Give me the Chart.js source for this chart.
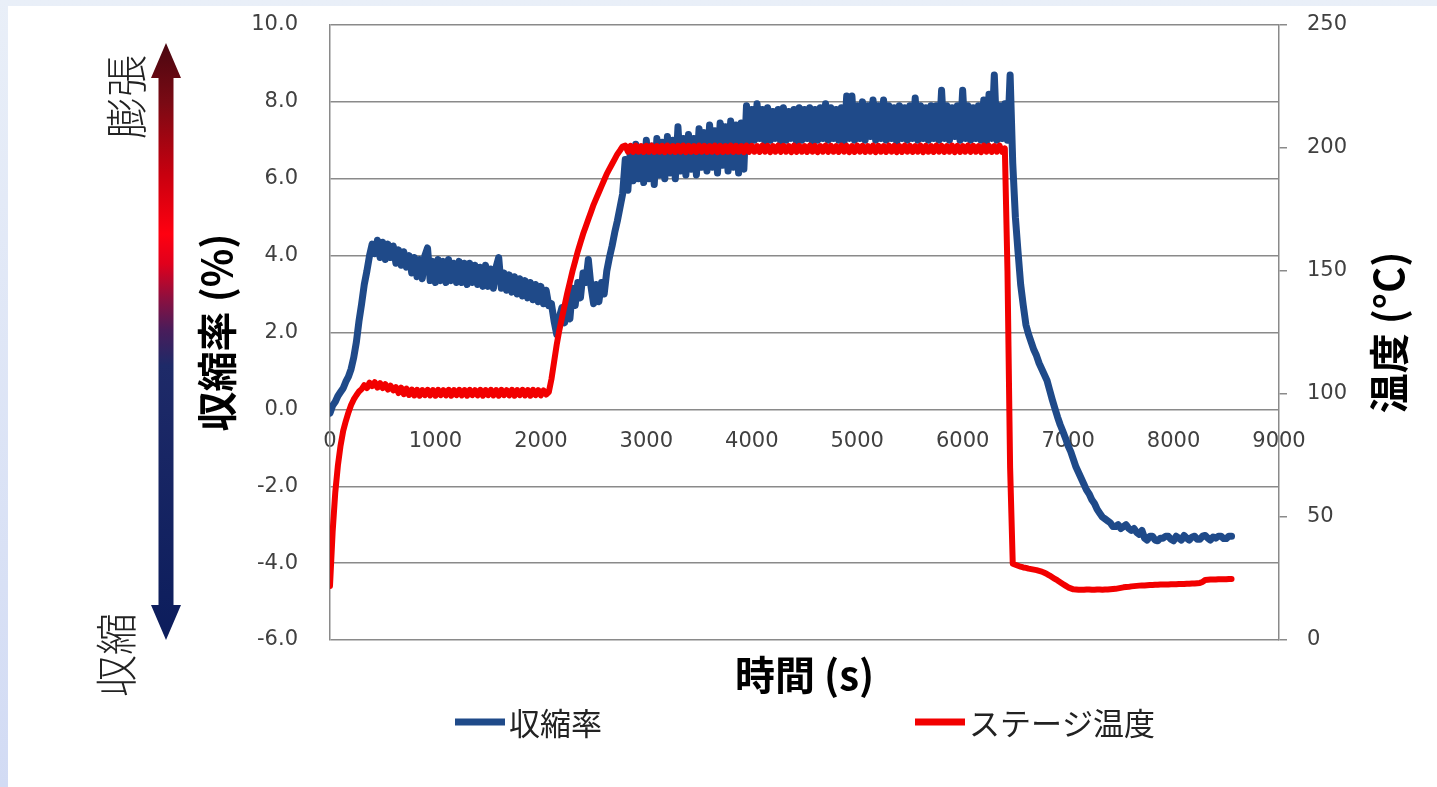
<!DOCTYPE html>
<html lang="ja">
<head>
<meta charset="utf-8">
<title>収縮率とステージ温度</title>
<script src="https://cdn.jsdelivr.net/npm/chart.js@4.4.1/dist/chart.umd.min.js"></script>
<style>
  html, body { margin: 0; padding: 0; }
  body {
    width: 1437px; height: 787px; overflow: hidden; position: relative;
    background: linear-gradient(to bottom, #e9eff8, #d2dbf4);
  }
  #panel { position: absolute; left: 8px; top: 6px; width: 1429px; height: 781px; background: #fff; }
  canvas { display: block; }
</style>
</head>
<body>
<div id="panel"><canvas id="chart" width="1429" height="781"></canvas></div>
<script>
// Readings logged every 25 s from t = 0 to 8550 s
const SAMPLE_INTERVAL_S = 25;

// Shrinkage / expansion rate (%), left axis — one row per 250 s
const shrinkage = [
  -0.1, 0.1, 0.2, 0.35, 0.45, 0.55, 0.72, 0.85, 1.05, 1.35,
  1.75, 2.3, 2.75, 3.25, 3.6, 4.0, 4.3, 4.05, 4.4, 3.95,
  4.35, 3.9, 4.3, 3.95, 4.25, 3.8, 4.15, 3.75, 4.1, 3.7,
  4.0, 3.55, 3.95, 3.45, 3.9, 3.4, 4.0, 4.2, 3.35, 3.85,
  3.3, 3.9, 3.35, 3.85, 3.3, 3.9, 3.35, 3.8, 3.3, 3.85,
  3.3, 3.8, 3.25, 3.8, 3.3, 3.75, 3.25, 3.7, 3.2, 3.75,
  3.2, 3.65, 3.15, 3.7, 3.95, 3.15, 3.55, 3.1, 3.5, 3.05,
  3.45, 3.0, 3.4, 2.95, 3.35, 2.9, 3.3, 2.85, 3.25, 2.8,
  3.2, 2.75, 3.1, 2.7, 2.75, 2.3, 1.95, 2.4, 2.65, 2.25,
  2.8, 2.35, 3.15, 2.7, 3.3, 2.9, 3.55, 3.3, 3.9, 3.2,
  2.75, 3.25, 2.8, 3.3, 3.0, 3.6, 3.95, 4.25, 4.6, 4.9,
  5.25, 5.6, 6.5, 5.7, 6.8, 5.95, 6.9, 6.0, 6.75, 5.9,
  7.0, 6.0, 6.85, 5.85, 7.05, 6.1, 6.95, 6.0, 7.1, 6.15,
  7.0, 6.0, 7.35, 6.2, 7.05, 6.1, 7.15, 6.25, 7.05, 6.1,
  7.3, 6.3, 7.2, 6.2, 7.4, 6.3, 7.25, 6.15, 7.45, 6.35,
  7.35, 6.2, 7.5, 6.3, 7.4, 6.15, 7.45, 6.25, 7.9, 6.95,
  7.8, 7.0, 7.95, 7.05, 7.8, 6.95, 7.85, 7.0, 7.75, 7.05,
  7.8, 6.95, 7.85, 7.0, 7.75, 7.05, 7.8, 6.95, 7.85, 7.0,
  7.8, 7.05, 7.85, 6.95, 7.8, 7.0, 7.85, 7.05, 7.95, 7.0,
  7.85, 7.05, 7.8, 7.0, 7.85, 6.95, 8.15, 7.05, 8.15, 7.0,
  7.9, 7.05, 8.0, 7.0, 7.9, 7.1, 8.05, 7.0, 7.9, 7.05,
  8.05, 7.0, 7.9, 7.05, 7.85, 6.95, 7.9, 7.05, 7.85, 7.0,
  7.9, 7.05, 8.1, 7.0, 7.9, 7.05, 7.85, 7.0, 7.9, 7.05,
  7.9, 7.0, 8.3, 7.05, 7.9, 7.0, 7.85, 7.1, 7.9, 7.0,
  8.3, 7.05, 7.9, 7.0, 7.85, 7.05, 7.9, 7.0, 8.05, 6.95,
  8.2, 7.05, 8.7, 7.0, 7.9, 7.05, 7.95, 7.0, 8.7, 6.4,
  5.0, 4.1, 3.25, 2.7, 2.2, 1.95, 1.75, 1.55, 1.4, 1.2,
  1.05, 0.9, 0.75, 0.5, 0.25, 0.02, -0.2, -0.4, -0.57, -0.75,
  -0.95, -1.1, -1.3, -1.5, -1.65, -1.8, -1.95, -2.1, -2.2, -2.35,
  -2.45, -2.6, -2.7, -2.8, -2.85, -2.9, -2.95, -3.05, -3.05, -3.0,
  -3.1, -3.05, -3.0, -3.1, -3.15, -3.1, -3.2, -3.25, -3.15, -3.35,
  -3.4, -3.3, -3.3, -3.4, -3.42, -3.35, -3.35, -3.3, -3.3, -3.38,
  -3.42, -3.3, -3.35, -3.4, -3.28, -3.35, -3.4, -3.32, -3.3, -3.38,
  -3.38, -3.3, -3.28, -3.35, -3.4, -3.32, -3.35, -3.3, -3.3, -3.36,
  -3.36, -3.3, -3.3
];

// Stage temperature (°C), right axis — one row per 250 s
const stageTemperature = [
  22, 44, 60, 71, 79, 85, 89, 92.5, 95.5, 97.8,
  99.5, 101, 102, 103.6, 102.4, 104.6, 103.2, 104.8, 102.6, 104.4,
  102.4, 104.0, 101.8, 103.4, 101.5, 102.8, 100.4, 102.6, 99.9, 102.2,
  99.6, 101.8, 99.4, 101.7, 99.3, 101.6, 99.5, 101.7, 99.4, 101.6,
  99.3, 101.7, 99.5, 101.6, 99.4, 101.7, 99.3, 101.6, 99.5, 101.7,
  99.4, 101.6, 99.3, 101.7, 99.5, 101.6, 99.4, 101.7, 99.3, 101.6,
  99.5, 101.7, 99.4, 101.6, 99.3, 101.7, 99.5, 101.6, 99.4, 101.7,
  99.3, 101.6, 99.5, 101.7, 99.4, 101.6, 99.3, 101.7, 99.5, 101.6,
  99.4, 101.5, 99.8, 100.8, 106, 113, 120, 126, 131, 136,
  141, 145.5, 150, 154, 158, 161.5, 165, 168, 171, 174,
  177, 179.5, 182, 184.5, 187, 189.5, 191.5, 193.5, 195.5, 197.5,
  199, 200.6, 201.0, 198.5, 200.9, 198.4, 201.0, 198.5, 200.8, 198.4,
  200.9, 198.5, 201.0, 198.4, 200.8, 198.5, 200.9, 198.3, 201.0, 198.5,
  200.8, 198.4, 200.9, 198.5, 201.0, 198.3, 200.9, 198.5, 200.8, 198.4,
  201.0, 198.5, 200.9, 198.4, 200.8, 198.5, 201.0, 198.3, 200.9, 198.4,
  200.8, 198.5, 201.0, 198.4, 200.9, 198.5, 200.8, 198.3, 201.0, 198.4,
  200.9, 198.5, 200.8, 198.4, 201.0, 198.5, 200.9, 198.3, 200.8, 198.5,
  201.0, 198.4, 200.9, 198.5, 200.8, 198.3, 201.0, 198.4, 200.9, 198.5,
  200.8, 198.4, 201.0, 198.5, 200.9, 198.3, 200.8, 198.5, 201.0, 198.4,
  200.9, 198.5, 200.8, 198.4, 201.0, 198.5, 200.9, 198.3, 200.8, 198.4,
  201.0, 198.5, 200.9, 198.4, 200.8, 198.5, 201.0, 198.3, 200.9, 198.5,
  200.8, 198.4, 201.0, 198.5, 200.9, 198.3, 200.8, 198.4, 201.0, 198.5,
  200.9, 198.4, 200.8, 198.5, 201.0, 198.3, 200.9, 198.5, 200.8, 198.4,
  201.0, 198.5, 200.9, 198.4, 200.8, 198.5, 201.0, 198.3, 200.9, 198.4,
  200.8, 198.5, 201.0, 198.4, 200.9, 198.5, 200.8, 198.3, 201.0, 198.5,
  200.9, 198.4, 200.8, 198.5, 201.0, 198.4, 199.8, 150, 70, 31,
  30.6, 30.2, 29.8, 29.5, 29.3, 29.0, 28.8, 28.6, 28.4, 28.1,
  27.8, 27.3, 26.8, 26.2, 25.5, 24.8, 24.2, 23.5, 22.8, 22.1,
  21.4, 21.0, 20.6, 20.5, 20.4, 20.4, 20.4, 20.5, 20.5, 20.4,
  20.4, 20.5, 20.5, 20.4, 20.5, 20.5, 20.6, 20.7, 20.8, 21.0,
  21.2, 21.4, 21.5, 21.6, 21.8, 21.9, 22.0, 22.1, 22.2, 22.2,
  22.3, 22.4, 22.4, 22.5, 22.5, 22.6, 22.6, 22.6, 22.6, 22.7,
  22.7, 22.7, 22.8, 22.8, 22.8, 22.9, 22.9, 23.0, 23.0, 23.1,
  23.2, 23.6, 24.4, 24.5, 24.6, 24.6, 24.6, 24.7, 24.7, 24.7,
  24.7, 24.8, 24.8
];

// Elapsed time of each reading (s)
const elapsed = shrinkage.map((_, i) => i * SAMPLE_INTERVAL_S);

// Axis ranges
const TIME_RANGE = [0, 9000];
const RATE_RANGE = [-6, 10];
const TEMP_RANGE = [0, 250];

const BLUE = '#1f4a89';
const RED = '#f20000';
const GRID = '#8a8a8a';
const LABEL = '#404040';
const JP = "'Noto Sans CJK JP', 'Noto Sans', sans-serif";
const TICK_FONT = { family: "'DejaVu Sans', sans-serif", size: 21 };

const toPoints = (values) => values.map((v, i) => ({ x: elapsed[i], y: v }));

// Side arrow with its labels, the right-hand title and the legend row
const decorations = {
  id: 'decorations',
  afterDraw(chart) {
    const ctx = chart.ctx;
    const area = chart.chartArea;
    ctx.save();

    // expansion / shrinkage arrow
    const cx = 158, tipTop = area.top + 18, headTop = tipTop + 35;
    const tipBot = area.bottom, headBot = tipBot - 35;
    const hw = 15, sw = 7.5;
    const grad = ctx.createLinearGradient(0, tipTop, 0, tipBot);
    grad.addColorStop(0.00, '#4a0710');
    grad.addColorStop(0.10, '#7a0a14');
    grad.addColorStop(0.22, '#c8000f');
    grad.addColorStop(0.32, '#ff0010');
    grad.addColorStop(0.37, '#e0001c');
    grad.addColorStop(0.43, '#8a1040');
    grad.addColorStop(0.48, '#4a1c5a');
    grad.addColorStop(0.54, '#1e2a68');
    grad.addColorStop(1.00, '#0c1d5c');
    ctx.beginPath();
    ctx.moveTo(cx, tipTop);
    ctx.lineTo(cx + hw, headTop);
    ctx.lineTo(cx + sw, headTop);
    ctx.lineTo(cx + sw, headBot);
    ctx.lineTo(cx + hw, headBot);
    ctx.lineTo(cx, tipBot);
    ctx.lineTo(cx - hw, headBot);
    ctx.lineTo(cx - sw, headBot);
    ctx.lineTo(cx - sw, headTop);
    ctx.lineTo(cx - hw, headTop);
    ctx.closePath();
    ctx.fillStyle = grad;
    ctx.fill();

    const vertical = (text, x, y, font, color) => {
      ctx.save();
      ctx.translate(x, y);
      ctx.rotate(-Math.PI / 2);
      ctx.textAlign = 'center';
      ctx.textBaseline = 'middle';
      ctx.font = font;
      ctx.fillStyle = color;
      ctx.fillText(text, 0, 0);
      ctx.restore();
    };
    vertical('膨張', 118, 91, `300 42px ${JP}`, '#222');
    vertical('収縮', 108, 649, `300 42px ${JP}`, '#222');
    vertical('温度 (°C)', 1381, (area.top + area.bottom) / 2, `bold 40px ${JP}`, '#000');

    // legend
    const ly = 716;
    const entries = [[chart.data.datasets[0], 447], [chart.data.datasets[1], 907]];
    ctx.font = `31px ${JP}`;
    ctx.textBaseline = 'middle';
    ctx.textAlign = 'left';
    for (const [ds, x] of entries) {
      ctx.beginPath();
      ctx.moveTo(x, ly);
      ctx.lineTo(x + 50, ly);
      ctx.strokeStyle = ds.borderColor;
      ctx.lineWidth = 7;
      ctx.lineCap = 'butt';
      ctx.stroke();
      ctx.fillStyle = '#222';
      ctx.fillText(ds.label, x + 54, ly + 1);
    }
    ctx.restore();
  }
};

// fixed axis widths so the plot frame sits where it should
const fixWidth = (w) => (scale) => {
  scale.width = w;
  scale.paddingTop = 0;
  scale.paddingBottom = 0;
};

new Chart(document.getElementById('chart'), {
  type: 'line',
  data: {
    datasets: [
      { label: '収縮率', data: toPoints(shrinkage), xAxisID: 'x', yAxisID: 'y',
        borderColor: BLUE, borderWidth: 7, order: 2 },
      { label: 'ステージ温度', data: toPoints(stageTemperature), xAxisID: 'x', yAxisID: 'y2',
        borderColor: RED, borderWidth: 6, order: 1 }
    ]
  },
  options: {
    responsive: false,
    animation: false,
    devicePixelRatio: 1,
    elements: {
      point: { radius: 0 },
      line: { tension: 0, borderJoinStyle: 'round', borderCapStyle: 'round', fill: false }
    },
    layout: { padding: { top: 19, left: 0, right: 0, bottom: 0 } },
    plugins: { legend: { display: false }, tooltip: { enabled: false } },
    scales: {
      x: {
        type: 'linear', position: 'bottom', min: TIME_RANGE[0], max: TIME_RANGE[1],
        grid: { display: false }, border: { display: false }, ticks: { display: false },
        title: { display: true, text: '時間 (s)', color: '#000',
                 font: { family: JP, size: 40, weight: 'bold' }, padding: { top: 0, bottom: 88 } },
        afterFit(scale) { scale.height = 147; }
      },
      x0: {
        axis: 'x', type: 'linear', position: { y: 0 }, min: TIME_RANGE[0], max: TIME_RANGE[1], z: 1,
        grid: { display: false, drawTicks: false }, border: { display: false },
        ticks: { stepSize: 1000, padding: 20, color: LABEL, font: TICK_FONT,
                 maxRotation: 0, autoSkip: false, callback: (v) => String(v) }
      },
      y: {
        type: 'linear', position: 'left', min: RATE_RANGE[0], max: RATE_RANGE[1],
        grid: { color: GRID, lineWidth: 1.5, drawTicks: false },
        border: { display: true, color: GRID, width: 1.5 },
        ticks: { stepSize: 2, padding: 32, color: LABEL, font: TICK_FONT,
                 callback: (v) => v.toFixed(1) },
        title: { display: true, text: '収縮率 (%)', color: '#000',
                 font: { family: JP, size: 40, weight: 'bold' }, padding: { top: 185, bottom: 0 } },
        afterFit: fixWidth(322)
      },
      y2: {
        axis: 'y', type: 'linear', position: 'right', min: TEMP_RANGE[0], max: TEMP_RANGE[1],
        grid: { drawOnChartArea: false, color: GRID, lineWidth: 1.5, tickLength: 8 },
        border: { display: true, color: GRID, width: 1.5 },
        ticks: { stepSize: 50, padding: 20, color: LABEL, font: TICK_FONT,
                 callback: (v) => String(v) },
        afterFit: fixWidth(158)
      }
    }
  },
  plugins: [decorations]
});
</script>
</body>
</html>
